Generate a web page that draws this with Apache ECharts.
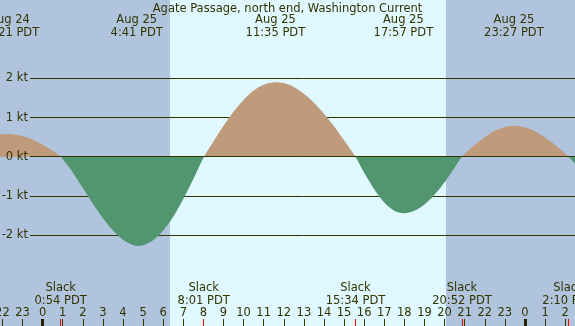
<!DOCTYPE html>
<html>
<head>
<meta charset="utf-8">
<script src="https://cdn.jsdelivr.net/npm/echarts@6/dist/echarts.min.js"></script>
<style>
  html, body { margin: 0; padding: 0; }
  #chart { width: 575px; height: 326px; }
</style>
</head>
<body>
<div id="chart"></div>
<script>
// hours from Aug 25 00:00 PDT
var curveHours = [-2.5, -2.0, -1.65, -1.0, -0.5, 0, 0.5, 0.9, 1.0, 1.5, 2.0, 2.5, 3.0, 3.5, 4.0, 4.5, 4.75, 5.0, 5.5, 6.0, 6.5, 7.0, 7.5, 8.03,
  8.5, 9.0, 9.5, 10.0, 10.5, 11.0, 11.58, 12.0, 12.5, 13.0, 13.5, 14.0, 14.5, 15.0, 15.567,
  16.0, 16.5, 17.0, 17.5, 17.95, 18.5, 19.0, 19.5, 20.0, 20.5, 20.867,
  21.5, 22.0, 22.5, 23.0, 23.45, 24.0, 24.5, 25.0, 25.5, 26.167, 26.6];
var curveKnots = [0.52, 0.575, 0.58, 0.53, 0.44, 0.31, 0.15, 0, -0.06, -0.40, -0.80, -1.20, -1.57, -1.88, -2.12, -2.26, -2.28, -2.26, -2.13, -1.88, -1.53, -1.08, -0.57, 0,
  0.39, 0.79, 1.15, 1.45, 1.69, 1.84, 1.90, 1.88, 1.78, 1.61, 1.38, 1.10, 0.78, 0.42, 0,
  -0.41, -0.83, -1.17, -1.38, -1.44, -1.38, -1.22, -0.97, -0.65, -0.28, 0,
  0.30, 0.50, 0.66, 0.76, 0.79, 0.75, 0.65, 0.49, 0.30, 0, -0.25];

var peakTimes = [-1.65, 4.683, 11.583, 17.95, 23.45];
var peakLabels = ["Aug 24\n22:21 PDT", "Aug 25\n4:41 PDT", "Aug 25\n11:35 PDT", "Aug 25\n17:57 PDT", "Aug 25\n23:27 PDT"];
var slackTimes = [0.9, 8.017, 15.567, 20.867, 26.167];
var slackLabels = ["Slack\n0:54 PDT", "Slack\n8:01 PDT", "Slack\n15:34 PDT", "Slack\n20:52 PDT", "Slack\n2:10 PDT"];
var hourTicks = [-2, -1, 0, 1, 2, 3, 4, 5, 6, 7, 8, 9, 10, 11, 12, 13, 14, 15, 16, 17, 18, 19, 20, 21, 22, 23, 24, 25, 26];
var midnights = [0, 24];
var dayBand = [6.335, 20.07];
var knotTicks = [-2, -1, 0, 1, 2];

var xMin = -2.12, xMax = 26.49;
var yMin = -4.32, yMax = 4.0;
var ink = "#333300";
var font = "DejaVu Sans";

var chart = echarts.init(document.getElementById("chart"));

function lookup(times, labels) {
  return function (v) {
    for (var i = 0; i < times.length; i++) {
      if (Math.abs(times[i] - v) < 1e-6) return labels[i];
    }
    return "";
  };
}

function hourAxis(values, tickStyle, label) {
  return {
    type: "value", gridIndex: 1, position: "bottom", min: xMin, max: xMax, z: 5,
    axisLine: { show: false, onZero: false },
    splitLine: { show: false },
    axisTick: { show: true, inside: true, length: 7, customValues: values, lineStyle: tickStyle },
    axisLabel: label || { show: false }
  };
}

var option = {
  backgroundColor: "#b0c4de",
  animation: false,
  title: {
    text: "Agate Passage, north end, Washington Current",
    left: "center", top: 3, padding: 0,
    textStyle: { color: ink, fontFamily: font, fontSize: 11.5, fontWeight: "normal" }
  },
  grid: [
    { left: 30, right: 0, top: 0, bottom: 0, outerBoundsMode: "none", containLabel: false },
    { left: 0, right: 0, top: 0, bottom: 0, outerBoundsMode: "none", containLabel: false }
  ],
  xAxis: [
    hourAxis(hourTicks, { color: ink, width: 1 }, {
      show: true, inside: true, margin: 7, customValues: hourTicks,
      color: ink, fontFamily: font, fontSize: 11.5,
      formatter: function (v) { return String(((v % 24) + 24) % 24); }
    }),
    hourAxis(midnights, { color: "#222200", width: 3 }),
    hourAxis(slackTimes, { color: "#ff0000", width: 1 }, {
      show: true, inside: true, margin: 19, customValues: slackTimes,
      color: ink, fontFamily: font, fontSize: 11.5, lineHeight: 12.5,
      formatter: lookup(slackTimes, slackLabels)
    }),
    {
      type: "value", gridIndex: 1, position: "top", min: xMin, max: xMax, z: 5,
      axisLine: { show: false, onZero: false }, splitLine: { show: false }, axisTick: { show: false },
      axisLabel: {
        show: true, inside: true, margin: 14, customValues: peakTimes,
        color: ink, fontFamily: font, fontSize: 11.5, lineHeight: 12.5,
        formatter: lookup(peakTimes, peakLabels)
      }
    },
    { type: "value", gridIndex: 0, show: false, min: 0, max: 1, axisLine: { onZero: false } }
  ],
  yAxis: [
    { type: "value", gridIndex: 1, show: false, min: yMin, max: yMax, axisLine: { onZero: false } },
    {
      type: "value", gridIndex: 0, min: yMin, max: yMax, z: 5,
      axisLine: { show: false, onZero: false }, axisTick: { show: false }, splitLine: { show: false },
      axisLabel: {
        customValues: knotTicks, margin: 2, color: ink, fontFamily: font, fontSize: 11.5,
        formatter: function (v) { return v + " kt"; }
      }
    }
  ],
  visualMap: {
    type: "piecewise", show: false, seriesIndex: 0, dimension: 1,
    pieces: [
      { min: yMin, max: 0, color: "#529670" },
      { min: 0, max: yMax, color: "#bf9b7b" }
    ]
  },
  series: [
    {
      // current curve
      type: "line", xAxisIndex: 0, yAxisIndex: 0, z: 2,
      data: curveHours.map(function (h, i) { return [h, curveKnots[i]]; }),
      smooth: 0.3, symbol: "none", silent: true,
      lineStyle: { width: 0 },
      areaStyle: { opacity: 1 }
    },
    {
      // daylight band
      type: "line", xAxisIndex: 0, yAxisIndex: 0, data: [], silent: true,
      markArea: {
        z: 0.5, silent: true,
        itemStyle: { color: "#e0f8ff" },
        data: [[{ xAxis: dayBand[0] }, { xAxis: dayBand[1] }]]
      }
    },
    {
      // grid lines
      type: "line", xAxisIndex: 4, yAxisIndex: 1, data: [], silent: true,
      markLine: {
        z: 1.5, silent: true, symbol: "none", label: { show: false },
        lineStyle: { color: ink, width: 1, type: "solid" },
        data: knotTicks.filter(function (v) { return v !== 0; }).map(function (v) { return { yAxis: v }; })
      }
    },
    {
      // zero line on top
      type: "line", xAxisIndex: 4, yAxisIndex: 1, data: [], silent: true,
      markLine: {
        z: 3, silent: true, symbol: "none", label: { show: false },
        lineStyle: { color: ink, width: 1, type: "solid" },
        data: [{ yAxis: 0 }]
      }
    }
  ]
};

chart.setOption(option);
</script>
</body>
</html>
